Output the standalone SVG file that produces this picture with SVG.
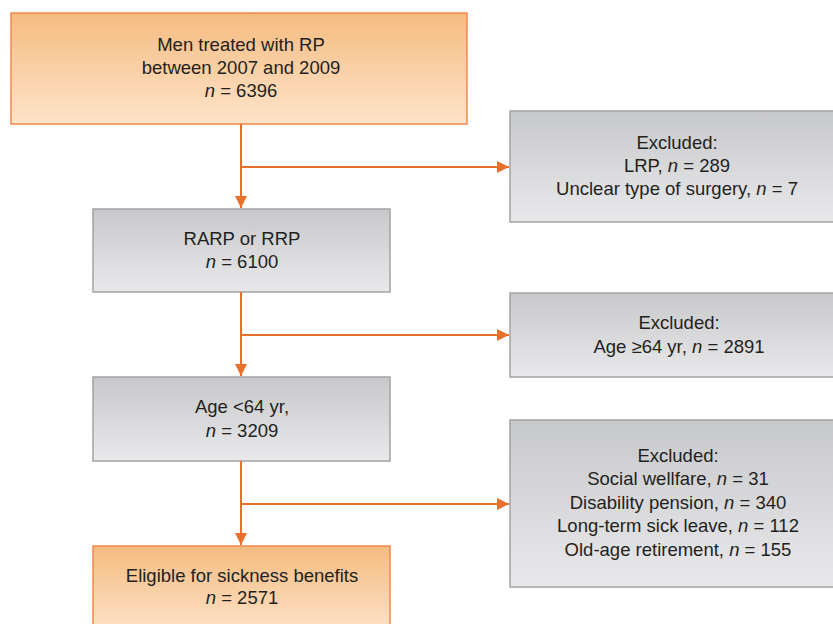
<svg xmlns="http://www.w3.org/2000/svg" width="833" height="624" viewBox="0 0 833 624">
<defs>
<linearGradient id="gOr" x1="0" y1="0" x2="0" y2="1"><stop offset="0" stop-color="#f5bb80"/><stop offset="1" stop-color="#fde4ca"/></linearGradient>
<linearGradient id="gGr" x1="0" y1="0" x2="0" y2="1"><stop offset="0" stop-color="#c7c8ca"/><stop offset="1" stop-color="#e9e9eb"/></linearGradient>
<marker id="ah" viewBox="0 0 12 12" refX="12" refY="6" markerWidth="12" markerHeight="12" markerUnits="userSpaceOnUse" orient="auto"><path d="M0,0 L12,6 L0,12 Z" fill="#e9702a"/></marker>
</defs>
<style>
.or{fill:url(#gOr);stroke:#f0894a;stroke-width:1.5}
.gr{fill:url(#gGr);stroke:#a3a3a5;stroke-width:1.5}
text{font-family:"Liberation Sans",Arial,sans-serif;font-size:18.5px;fill:#231f20;text-anchor:middle}
.c{stroke:#e9702a;stroke-width:2;fill:none}
</style>
<g id="n1"><rect class="or" x="11" y="13" width="456" height="111"/>
<text x="241" y="51">Men treated with RP</text><text x="241" y="74">between 2007 and 2009</text><text x="241" y="97"><tspan font-style="italic">n</tspan> = 6396</text></g>
<g id="e1"><rect class="gr" x="510" y="111" width="336" height="111"/>
<text x="677" y="149">Excluded:</text><text x="677" y="172">LRP, <tspan font-style="italic">n</tspan> = 289</text><text x="677" y="195">Unclear type of surgery, <tspan font-style="italic">n</tspan> = 7</text></g>
<g id="n2"><rect class="gr" x="93" y="209" width="297" height="83"/>
<text x="242" y="245">RARP or RRP</text><text x="242" y="268"><tspan font-style="italic">n</tspan> = 6100</text></g>
<g id="e2"><rect class="gr" x="510" y="293" width="336" height="84"/>
<text x="679" y="329">Excluded:</text><text x="679" y="353">Age ≥64 yr, <tspan font-style="italic">n</tspan> = 2891</text></g>
<g id="n3"><rect class="gr" x="93" y="377" width="297" height="84"/>
<text x="242" y="413">Age &lt;64 yr,</text><text x="242" y="437"><tspan font-style="italic">n</tspan> = 3209</text></g>
<g id="e3"><rect class="gr" x="510" y="420" width="336" height="167"/>
<text x="678" y="462">Excluded:</text><text x="678" y="485">Social wellfare, <tspan font-style="italic">n</tspan> = 31</text><text x="678" y="509">Disability pension, <tspan font-style="italic">n</tspan> = 340</text><text x="678" y="532">Long-term sick leave, <tspan font-style="italic">n</tspan> = 112</text><text x="678" y="556">Old-age retirement, <tspan font-style="italic">n</tspan> = 155</text></g>
<g id="n4"><rect class="or" x="93" y="546" width="297" height="90"/>
<text x="242" y="582">Eligible for sickness benefits</text><text x="242" y="604"><tspan font-style="italic">n</tspan> = 2571</text></g>
<g id="connectors">
<path class="c" d="M241,124 V208" marker-end="url(#ah)"/>
<path class="c" d="M241,167 H509" marker-end="url(#ah)"/>
<path class="c" d="M241,292 V376" marker-end="url(#ah)"/>
<path class="c" d="M241,335 H509" marker-end="url(#ah)"/>
<path class="c" d="M241,461 V545" marker-end="url(#ah)"/>
<path class="c" d="M241,504 H509" marker-end="url(#ah)"/>
</g>
</svg>
